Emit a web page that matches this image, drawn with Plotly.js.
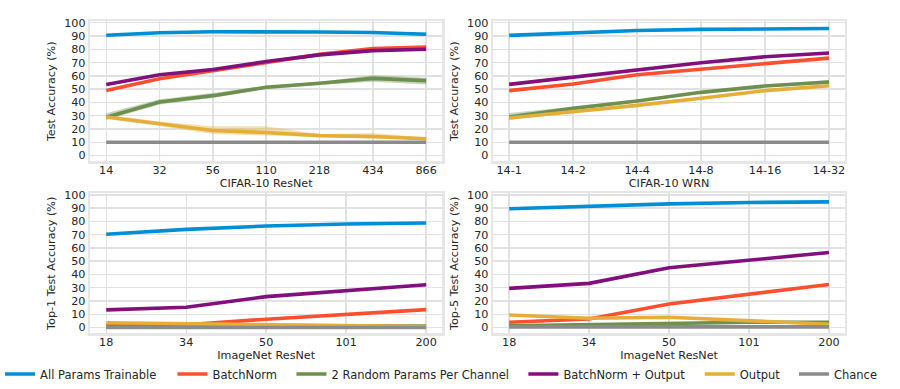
<!DOCTYPE html>
<html>
<head>
<meta charset="utf-8">
<script src="https://cdn.plot.ly/plotly-3.0.1.min.js"></script>
<style>html,body{margin:0;padding:0;background:#fff}#chart{width:900px;height:389px}</style>
</head>
<body>
<div id="chart"></div>
<script>
// ---------- categories ----------
const catC10ResNet = ['14','32','56','110','218','434','866'];
const catC10WRN = ['14-1','14-2','14-4','14-8','14-16','14-32'];
const catINResNet = ['18','34','50','101','200'];

const seriesNames = ['All Params Trainable','BatchNorm','2 Random Params Per Channel','BatchNorm + Output','Output','Chance'];
const seriesColors = ['#008fd5','#fc4f30','#6d904f','#810f7c','#e5ae38','#8b8b8b'];

// ---------- CIFAR-10 ResNet ----------
const c10r_all      = [90.6, 92.5, 93.2, 93.3, 93.1, 92.7, 91.4];
const c10r_all_lo   = [90.0, 92.0, 92.8, 92.9, 92.6, 92.2, 90.0];
const c10r_all_hi   = [91.1, 93.0, 93.6, 93.7, 93.5, 93.2, 92.6];
const c10r_bn       = [48.9, 57.9, 63.9, 70.2, 76.2, 80.5, 81.7];
const c10r_random   = [28.8, 40.4, 45.1, 51.4, 54.4, 58.1, 56.4];
const c10r_random_lo= [26.8, 38.4, 43.4, 50.2, 53.2, 55.6, 53.6];
const c10r_random_hi= [31.8, 42.4, 47.1, 52.6, 55.6, 60.4, 58.6];
const c10r_bnout    = [53.5, 60.8, 64.8, 70.8, 75.8, 79.0, 80.1];
const c10r_out      = [29.0, 23.8, 18.8, 17.3, 15.0, 14.3, 12.6];
const c10r_out_lo   = [27.6, 22.2, 16.2, 15.2, 14.0, 12.6, 11.6];
const c10r_out_hi   = [30.8, 25.6, 22.0, 22.0, 16.0, 17.0, 13.6];
const c10r_chance   = [10, 10, 10, 10, 10, 10, 10];

// ---------- CIFAR-10 WRN ----------
const c10w_all      = [90.5, 92.6, 94.2, 95.0, 95.4, 95.7];
const c10w_bn       = [48.9, 53.9, 60.9, 64.9, 68.9, 73.4];
const c10w_random   = [29.0, 35.5, 41.1, 47.6, 52.4, 55.4];
const c10w_random_lo= [26.8, 34.3, 40.1, 46.6, 51.4, 53.9];
const c10w_random_hi= [32.0, 36.7, 42.1, 48.6, 53.4, 56.9];
const c10w_bnout    = [53.6, 59.1, 64.9, 69.9, 74.4, 77.2];
const c10w_out      = [28.3, 32.8, 37.8, 43.1, 48.9, 52.6];
const c10w_chance   = [10, 10, 10, 10, 10, 10];

// ---------- ImageNet ResNet Top-1 ----------
const in1_all    = [70.3, 74.0, 76.5, 78.0, 78.8];
const in1_bn     = [1.7, 2.0, 6.3, 9.8, 13.5];
const in1_random = [0.2, 0.5, 1.5, 1.3, 1.1];
const in1_bnout  = [13.3, 15.3, 23.3, 27.5, 32.3];
const in1_out    = [3.6, 2.8, 2.2, 1.5, 0.8];
const in1_chance = [0.1, 0.1, 0.1, 0.1, 0.1];

// ---------- ImageNet ResNet Top-5 ----------
const in5_all    = [89.5, 91.5, 93.2, 94.2, 94.7];
const in5_bn     = [4.0, 6.5, 17.8, 25.0, 32.5];
const in5_random = [1.3, 2.0, 3.3, 4.0, 4.0];
const in5_bnout  = [29.5, 33.3, 45.0, 50.8, 56.5];
const in5_out    = [9.5, 7.0, 7.8, 5.0, 2.5];
const in5_chance = [0.5, 0.5, 0.5, 0.5, 0.5];

const yTickVals = [0,10,20,30,40,50,60,70,80,90,100];

// ---------- build ----------
function rgba(hex, a){
  const n = parseInt(hex.slice(1),16);
  return 'rgba('+((n>>16)&255)+','+((n>>8)&255)+','+(n&255)+','+a+')';
}
const traces = [];
function addBand(x, lo, hi, idx, xa, ya){
  traces.push({x:x, y:lo, xaxis:xa, yaxis:ya, type:'scatter', mode:'lines',
    line:{width:0, color:seriesColors[idx]}, showlegend:false, hoverinfo:'skip'});
  traces.push({x:x, y:hi, xaxis:xa, yaxis:ya, type:'scatter', mode:'lines', fill:'tonexty',
    fillcolor:rgba(seriesColors[idx],0.38), line:{width:0, color:seriesColors[idx]}, showlegend:false, hoverinfo:'skip'});
}
function addLine(x, y, idx, xa, ya, legendOn){
  traces.push({x:x, y:y, xaxis:xa, yaxis:ya, type:'scatter', mode:'lines', name:seriesNames[idx],
    line:{width:3.6, color:seriesColors[idx]}, showlegend:legendOn,
    legend: idx===0 ? 'legend' : 'legend'+(idx+1)});
}
function addPanel(x, ser, xa, ya, legendOn, bands){
  bands.forEach(b => addBand(x, b[1], b[2], b[0], xa, ya));
  ser.forEach((s,i) => addLine(x, s, i, xa, ya, legendOn));
}
addPanel(catC10ResNet, [c10r_all,c10r_bn,c10r_random,c10r_bnout,c10r_out,c10r_chance], 'x','y', true,
  [[0,c10r_all_lo,c10r_all_hi],[2,c10r_random_lo,c10r_random_hi],[4,c10r_out_lo,c10r_out_hi]]);
addPanel(catC10WRN, [c10w_all,c10w_bn,c10w_random,c10w_bnout,c10w_out,c10w_chance], 'x2','y2', false,
  [[2,c10w_random_lo,c10w_random_hi]]);
addPanel(catINResNet, [in1_all,in1_bn,in1_random,in1_bnout,in1_out,in1_chance], 'x3','y3', false, []);
addPanel(catINResNet, [in5_all,in5_bn,in5_random,in5_bnout,in5_out,in5_chance], 'x4','y4', false, []);

const FONT = 'DejaVu Sans, Verdana, sans-serif';
const frame = {showline:true, mirror:true, linecolor:'#e6e6e6', linewidth:2.5,
  showgrid:true, gridcolor:'#e1e1e1', gridwidth:1.4, zeroline:false, ticks:'',
  tickfont:{family:FONT, size:11.2, color:'#262626'}, fixedrange:true};
function xax(dom, anchor, cats, title){
  return Object.assign({}, frame, {domain:dom, anchor:anchor, type:'category',
    categoryorder:'array', categoryarray:cats, range:[-0.05*(cats.length-1), (cats.length-1)*1.05],
    ticklabelstandoff:-3,
    title:{text:title, font:{family:FONT, size:11.2, color:'#262626'}, standoff:3}});
}
function yax(dom, anchor, title){
  return Object.assign({}, frame, {domain:dom, anchor:anchor, range:[-4.2, 101],
    tickmode:'array', tickvals:yTickVals, ticktext:yTickVals.map(String),
    title:{text:title, font:{family:FONT, size:11.2, color:'#262626'}, standoff:6}});
}
const dL=[0.0922,0.4867], dR=[0.5439,0.9383], dT=[0.5848,0.9447], dB=[0.1414,0.5013];
const legendTextX = [36, 210, 330, 564, 742, 837];
const layout = {
  width:900, height:389, margin:{l:0,r:0,t:0,b:0},
  paper_bgcolor:'#ffffff', plot_bgcolor:'#ffffff',
  font:{family:FONT, size:11, color:'#262626'},
  xaxis: xax(dL,'y', catC10ResNet, 'CIFAR-10 ResNet'),
  yaxis: yax(dT,'x', 'Test Accuracy (%)'),
  xaxis2: xax(dR,'y2', catC10WRN, 'CIFAR-10 WRN'),
  yaxis2: yax(dT,'x2', 'Test Accuracy (%)'),
  xaxis3: xax(dL,'y3', catINResNet, 'ImageNet ResNet'),
  yaxis3: yax(dB,'x3', 'Top-1 Test Accuracy (%)'),
  xaxis4: xax(dR,'y4', catINResNet, 'ImageNet ResNet'),
  yaxis4: yax(dB,'x4', 'Top-5 Test Accuracy (%)'),
  hovermode:false
};
legendTextX.forEach((tx,i) => {
  layout[i===0?'legend':'legend'+(i+1)] = {
    x:(tx-44)/900, y:1-375/389, xanchor:'left', yanchor:'middle', xref:'paper', yref:'paper',
    orientation:'h', bgcolor:'rgba(0,0,0,0)', borderwidth:0,
    font:{family:FONT, size:11.5, color:'#262626'}, tracegroupgap:0, itemclick:false, itemdoubleclick:false
  };
});
Plotly.newPlot('chart', traces, layout, {displayModeBar:false, staticPlot:true});
</script>
</body>
</html>
